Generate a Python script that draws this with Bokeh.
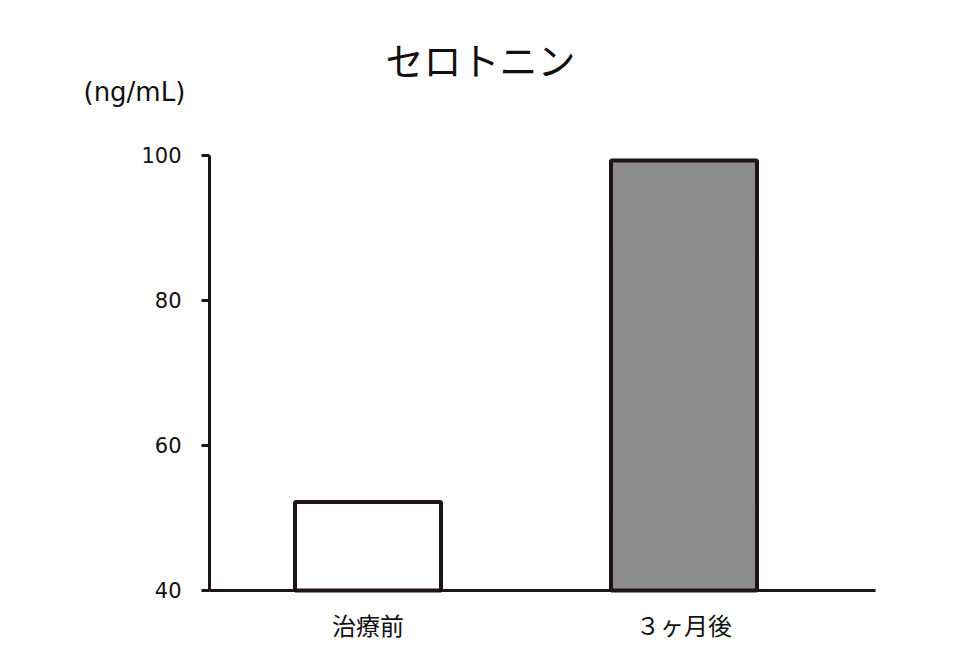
from bokeh.plotting import figure
from bokeh.models import FixedTicker, Range1d, Label, ColumnDataSource, LinearAxis
from bokeh.embed import file_html
from bokeh.resources import INLINE

title_text = "セロトニン"
unit_text = "(ng/mL)"
categories = ["治療前", "３ヶ月後"]
values = [52.2, 99.3]
fills = ["#ffffff", "#8c8c8c"]
y_ticks = [40, 60, 80, 100]

CJK = "Noto Sans CJK JP"
LATIN = "DejaVu Sans"
INK = "#1c1514"
TEXT = "#111111"

xs = list(range(1, len(categories) + 1))
src = ColumnDataSource(dict(x=xs, top=values, fill=fills))

# frame extends over the title area; axes are limited with bounds
x_axis_start, x_axis_end = 0.4984, 2.606
base = y_ticks[0]
p = figure(width=944, height=652, output_backend="svg", toolbar_location=None,
           x_range=Range1d(0.0585, 2.761), y_range=Range1d(37.93, 118.62),
           min_border_left=70, min_border_right=20, min_border_top=20,
           min_border_bottom=47)
p.outline_line_color = None
p.grid.visible = False
p.background_fill_color = "white"
p.border_fill_color = "white"

p.vbar(x="x", top="top", bottom=base, width=0.462, source=src,
       fill_color="fill", line_color=INK, line_width=4)

# y axis
ya = p.yaxis[0]
ya.fixed_location = x_axis_start
ya.bounds = (y_ticks[0], y_ticks[-1])
ya.ticker = FixedTicker(ticks=y_ticks)
ya.axis_line_color = INK
ya.axis_line_width = 3
ya.major_tick_line_color = INK
ya.major_tick_line_width = 3
ya.major_tick_out = 8
ya.major_tick_in = 0
ya.minor_tick_line_color = None
ya.major_label_text_font = LATIN
ya.major_label_text_font_size = "21px"
ya.major_label_text_color = TEXT
ya.major_label_standoff = 20

# x axis: category labels (no line)
xa = p.xaxis[0]
xa.ticker = FixedTicker(ticks=xs)
xa.major_label_overrides = {x: c for x, c in zip(xs, categories)}
xa.axis_line_color = None
xa.major_tick_line_color = None
xa.major_tick_out = 0
xa.major_tick_in = 0
xa.minor_tick_line_color = None
xa.major_label_text_font = CJK
xa.major_label_text_font_size = "24px"
xa.major_label_text_color = TEXT
xa.major_label_standoff = 1

# x axis baseline at y = 40
xline = LinearAxis(fixed_location=base, bounds=(x_axis_start, x_axis_end),
                   ticker=FixedTicker(ticks=[]), axis_line_color=INK,
                   axis_line_width=3, major_tick_line_color=None,
                   minor_tick_line_color=None, major_label_text_font_size="0px",
                   major_tick_out=0, major_tick_in=0, major_label_standoff=0)
p.add_layout(xline, "above")

p.add_layout(Label(x=1.356, y=113.4, text=title_text, text_font=CJK,
                   text_font_size="38px", text_align="center",
                   text_baseline="middle", text_color=TEXT))
p.add_layout(Label(x=0.0996, y=108.7, text=unit_text, text_font=LATIN,
                   text_font_size="26px", text_align="left",
                   text_baseline="middle", text_color=TEXT))

open("out.html", "w").write(file_html(p, INLINE))
